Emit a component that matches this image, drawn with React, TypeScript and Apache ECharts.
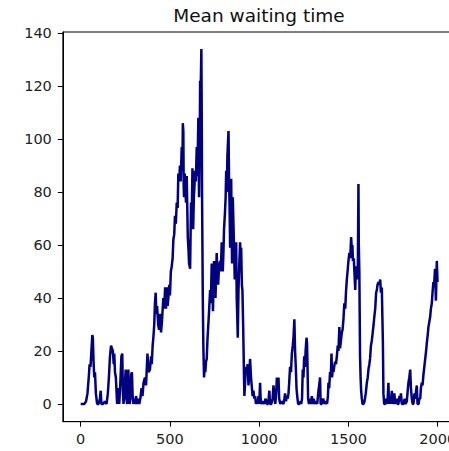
import React, { useEffect, useRef } from "react";
import * as echarts from "echarts";

const titleText = "Mean waiting time";
const xTicks = [0, 500, 1000, 1500, 2000];
const yTicks = [0, 20, 40, 60, 80, 100, 120, 140];

const steps = [
  0, 10, 20, 30, 38, 45, 50, 55, 60, 65, 68, 72, 76, 80, 85, 92, 100, 108, 112, 116, 125, 135, 145, 152, 158,
  164, 170, 175, 180, 185, 188, 192, 197, 204, 208, 212, 216, 222, 228, 233, 236, 240, 246, 252, 256, 260, 264,
  267, 270, 274, 278, 283, 287, 291, 295, 300, 305, 310, 316, 322, 328, 334, 341, 346, 352, 360, 366, 374, 380,
  388, 394, 398, 403, 407, 412, 416, 420, 424, 428, 434, 439, 445, 450, 455, 463, 468, 473, 478, 482, 487, 491,
  496, 500, 505, 510, 515, 519, 524, 528, 533, 538, 543, 547, 552, 556, 560, 566, 570, 572, 575, 577, 579, 583,
  587, 590, 594, 600, 604, 607, 613, 618, 622, 626, 630, 634, 637, 641, 645, 650, 654, 659, 663, 667, 669, 672,
  676, 678, 680, 684, 687, 691, 695, 698, 702, 706, 710, 715, 720, 725, 729, 734, 738, 741, 747, 751, 755, 762,
  766, 770, 775, 781, 785, 790, 796, 800, 803, 808, 812, 815, 818, 822, 826, 828, 831, 834, 837, 840, 843, 846,
  848, 852, 855, 859, 863, 867, 871, 874, 877, 880, 884, 888, 893, 896, 899, 903, 906, 910, 912, 915, 917, 921,
  925, 930, 935, 940, 945, 949, 954, 958, 963, 968, 972, 977, 982, 986, 991, 996, 1000, 1005, 1008, 1012, 1020,
  1028, 1036, 1043, 1050, 1057, 1061, 1068, 1075, 1080, 1085, 1090, 1095, 1099, 1103, 1108, 1112, 1118, 1126,
  1136, 1141, 1145, 1150, 1155, 1160, 1164, 1168, 1173, 1178, 1183, 1188, 1192, 1197, 1201, 1205, 1209, 1213,
  1218, 1225, 1230, 1235, 1240, 1244, 1248, 1252, 1256, 1260, 1265, 1268, 1271, 1274, 1279, 1285, 1290, 1295,
  1300, 1305, 1310, 1318, 1325, 1332, 1338, 1341, 1344, 1350, 1358, 1366, 1374, 1380, 1385, 1388, 1392, 1397,
  1401, 1405, 1408, 1412, 1416, 1420, 1425, 1430, 1435, 1440, 1444, 1449, 1453, 1458, 1463, 1467, 1472, 1477,
  1482, 1486, 1491, 1495, 1500, 1505, 1510, 1515, 1519, 1522, 1525, 1530, 1534, 1538, 1542, 1546, 1551, 1553,
  1556, 1558, 1561, 1565, 1568, 1571, 1575, 1579, 1585, 1590, 1597, 1603, 1608, 1612, 1617, 1621, 1626, 1631,
  1636, 1641, 1645, 1650, 1655, 1659, 1663, 1668, 1673, 1678, 1682, 1687, 1690, 1693, 1696, 1700, 1706, 1712,
  1718, 1724, 1727, 1732, 1737, 1743, 1748, 1752, 1757, 1762, 1770, 1776, 1780, 1786, 1790, 1794, 1799, 1808,
  1815, 1820, 1827, 1832, 1836, 1841, 1846, 1850, 1855, 1860, 1864, 1870, 1875, 1879, 1883, 1887, 1893, 1897,
  1902, 1906, 1911, 1915, 1920, 1925, 1930, 1935, 1939, 1944, 1948, 1953, 1958, 1962, 1967, 1971, 1976, 1980,
  1985, 1990, 1993, 1995, 1999,
];

const meanWait = [
  0, 0, 0, 1, 4, 10, 15, 14, 20, 26, 25, 16, 10, 12, 4, 0, 0, 2, 5, 0, 0, 1, 0, 4, 10,
  18, 22, 21, 20, 15, 19, 12, 10, 0, 3, 6, 0, 8, 18, 19, 5, 0, 6, 13, 2, 0, 8,
  13, 4, 0, 2, 11, 12, 3, 0, 2, 0, 3, 0, 2, 0, 2, 6, 3, 8, 10, 7, 19, 12,
  13, 18, 15, 22, 25, 30, 38, 42, 34, 37, 30, 28, 34, 27, 31, 40, 36, 44, 36, 44, 37, 40,
  45, 41, 50, 52, 55, 62, 64, 71, 68, 76, 74, 87, 84, 90, 84, 97, 88, 106, 103, 82, 78, 87,
  80, 76, 86, 63, 58, 53, 51, 76, 70, 89, 66, 78, 82, 88, 84, 97, 86, 108, 78, 100, 122, 118,
  134, 110, 78, 40, 22, 10, 14, 12, 16, 17, 24, 30, 36, 43, 38, 53, 44, 35, 54, 47, 40, 57,
  48, 45, 52, 54, 50, 61, 50, 58, 66, 72, 78, 88, 80, 94, 100, 103, 85, 75, 59, 72, 85, 65,
  53, 78, 70, 59, 47, 55, 61, 40, 33, 25, 43, 52, 61, 55, 59, 45, 43, 30, 22, 10, 3, 8,
  14, 12, 15, 7, 12, 17, 10, 7, 3, 5, 2, 3, 0, 1, 0, 3, 0, 8, 2, 0, 1,
  0, 2, 0, 0, 5, 0, 0, 2, 7, 3, 0, 4, 10, 5, 10, 2, 0, 1,
  0, 2, 4, 1, 3, 2, 4, 8, 14, 12, 19, 22, 25, 32, 20, 14, 6, 3,
  0, 0, 1, 0, 2, 13, 10, 18, 14, 20, 25, 23, 13, 2, 0, 2, 0, 3,
  0, 2, 0, 1, 0, 5, 8, 10, 0, 0, 2, 0, 1, 0, 3, 8, 6, 12,
  10, 19, 10, 13, 12, 14, 16, 15, 18, 22, 20, 29, 21, 24, 27, 28, 32, 38,
  36, 42, 47, 50, 54, 57, 55, 63, 58, 60, 54, 55, 49, 43, 52, 50, 47, 55,
  83, 60, 50, 18, 10, 5, 2, 0, 0, 1, 4, 8, 10, 13, 15, 17, 22, 24,
  27, 30, 33, 36, 42, 43, 45, 46, 45, 47, 42, 44, 33, 23, 4, 0, 0, 2,
  0, 8, 0, 3, 0, 5, 0, 2, 4, 0, 2, 0, 0, 3, 1, 4, 0, 0,
  2, 0, 1, 5, 8, 10, 13, 6, 2, 0, 0, 4, 2, 5, 7, 0, 0, 2,
  2, 6, 8, 7, 11, 14, 17, 20, 23, 26, 29, 31, 33, 36, 38, 42, 46, 45,
  51, 39, 48, 54, 46,
];

const FONT = "DejaVu Sans";

export default function App() {
  const ref = useRef<HTMLDivElement>(null);
  useEffect(() => {
    if (!ref.current) return;
    const chart = echarts.init(ref.current, null, { renderer: "svg" });
    const data = steps.map((s, i) => [s, meanWait[i]]);
    chart.setOption({
      animation: false,
      backgroundColor: "#ffffff",
      grid: {
        left: 62.85,
        top: 32,
        width: 392.7,
        height: 389.7,
        show: true,
        borderColor: "#000",
        borderWidth: 1,
        backgroundColor: "transparent",
      },
      graphic: [
        {
          type: "text",
          x: 259,
          y: 15,
          style: {
            text: titleText,
            fontFamily: FONT,
            fontSize: 18.5,
            fill: "#111",
            textAlign: "center",
            textVerticalAlign: "middle",
          },
        },
      ],
      xAxis: {
        type: "value",
        min: -100,
        max: 2100,
        splitLine: { show: false },
        axisLine: { show: true, onZero: false, lineStyle: { color: "#000", width: 1 } },
        axisTick: { show: true, inside: false, length: 5, customValues: xTicks, lineStyle: { color: "#000", width: 1 } },
        axisLabel: {
          show: true,
          customValues: xTicks,
          formatter: (v: number) => String(v),
          margin: 10,
          fontFamily: FONT,
          fontSize: 14.5,
          color: "#222",
        },
      },
      yAxis: {
        type: "value",
        min: -6.69,
        max: 140.4,
        splitLine: { show: false },
        axisLine: { show: true, onZero: false, lineStyle: { color: "#000", width: 1 } },
        axisTick: { show: true, inside: false, length: 5, customValues: yTicks, lineStyle: { color: "#000", width: 1 } },
        axisLabel: {
          show: true,
          customValues: yTicks,
          formatter: (v: number) => String(v),
          margin: 11,
          fontFamily: FONT,
          fontSize: 14.5,
          color: "#222",
        },
      },
      series: [
        {
          type: "line",
          data,
          showSymbol: false,
          symbol: "none",
          clip: true,
          lineStyle: { color: "#000080", width: 2.5 },
          silent: true,
        },
      ],
    });
    return () => chart.dispose();
  }, []);
  return (
    <div style={{ position: "fixed", left: 0, top: 0, width: 449, height: 451, overflow: "hidden", background: "#fff" }}>
      <div ref={ref} style={{ width: 470, height: 451 }} />
    </div>
  );
}
